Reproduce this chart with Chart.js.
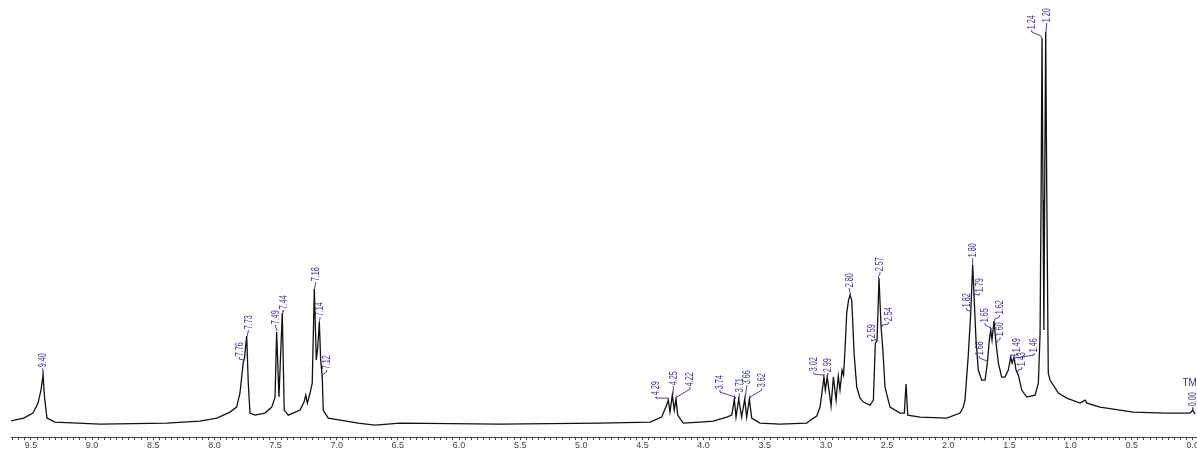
<!DOCTYPE html>
<html><head><meta charset="utf-8">
<script src="https://cdn.jsdelivr.net/npm/chart.js@4/dist/chart.umd.min.js"></script>
<style>html,body{margin:0;padding:0;background:#fff;}canvas{display:block;}</style>
</head><body>
<canvas id="c" width="1197" height="450"></canvas>
<script>
// Chemical shift (ppm) and intensity
const shiftPpm = [
 9.672, 9.560, 9.483, 9.442, 9.418, 9.401, 9.389, 9.369, 9.303, 8.935, 8.388,
 8.118, 7.979, 7.873, 7.818, 7.791, 7.764, 7.754, 7.736, 7.723, 7.709,
 7.668, 7.586, 7.531, 7.504, 7.491, 7.472, 7.445, 7.429, 7.396, 7.300,
 7.267, 7.253, 7.240, 7.218, 7.200, 7.183, 7.167, 7.155, 7.142, 7.131,
 7.118, 7.110, 7.069, 6.826, 6.687, 6.482, 5.665, 4.847, 4.438, 4.343,
 4.302, 4.289, 4.275, 4.256, 4.240, 4.226, 4.212, 4.166, 4.029, 3.921,
 3.811, 3.770, 3.749, 3.735, 3.713, 3.689, 3.664, 3.648, 3.626, 3.607,
 3.539, 3.375, 3.157, 3.114, 3.075, 3.048, 3.016, 3.005, 2.989, 2.966,
 2.958, 2.939, 2.917, 2.899, 2.885, 2.868, 2.856, 2.844, 2.830, 2.815,
 2.803, 2.789, 2.778, 2.770, 2.748, 2.721, 2.694, 2.639, 2.612, 2.596,
 2.582, 2.566, 2.555, 2.549, 2.536, 2.517, 2.476, 2.394, 2.359, 2.345,
 2.331, 2.231, 2.012, 1.903, 1.877, 1.863, 1.836, 1.816, 1.800, 1.789,
 1.773, 1.754, 1.726, 1.699, 1.680, 1.664, 1.653, 1.642, 1.626, 1.609,
 1.590, 1.563, 1.536, 1.509, 1.489, 1.478, 1.462, 1.446, 1.427, 1.399,
 1.358, 1.290, 1.263, 1.249, 1.241, 1.233, 1.225, 1.218, 1.212, 1.203,
 1.194, 1.182, 1.168, 1.141, 1.100, 1.031, 0.922, 0.881, 0.865, 0.759,
 0.487, 0.213, 0.023, 0.001, -0.018
];
const intensity = [
 4, 7, 12, 22, 35, 50, 28, 7, 3, 1, 2,
 4, 7, 13, 18, 32, 63, 67, 89, 42, 12,
 10, 12, 18, 28, 93, 28, 112, 15, 10, 15,
 23, 30, 22, 32, 42, 136, 65, 78, 103, 65,
 48, 15, 7, 2, 0, 2, 1, 2, 3, 8,
 20, 25, 13, 30, 15, 26, 10, 2, 3, 4,
 8, 10, 26, 8, 26, 8, 26, 8, 26, 7,
 2, 1, 2, 6, 9, 18, 48, 35, 48, 27,
 19, 48, 25, 49, 35, 55, 50, 75, 112, 125,
 130, 125, 95, 72, 38, 27, 23, 20, 25, 82,
 84, 147, 115, 98, 78, 38, 18, 12, 12, 41,
 10, 8, 7, 12, 18, 25, 70, 112, 160, 130,
 85, 55, 45, 45, 62, 85, 95, 85, 104, 82,
 62, 48, 48, 55, 68, 62, 68, 55, 50, 35,
 28, 30, 42, 92, 225, 387, 225, 95, 225, 393,
 225, 52, 45, 40, 32, 27, 22, 25, 22, 18,
 13, 12, 12, 15, 11
];

// Peak annotations (labels are the shifts themselves)
const peakLabels = ['9.40','7.76','7.73','7.49','7.44','7.18','7.14','7.12',
 '4.29','4.25','4.22','3.74','3.71','3.66','3.62','3.02','2.99','2.80','2.59','2.57','2.54',
 '1.82','1.80','1.79','1.65','1.62','1.68','1.60','1.49','1.43','1.46','1.24','1.20','0.00'];
const labelPeakHeight = [49,63,89,94,112,136,103,48,
 25,30,26,26,26,26,26,48,48,130,84,147,98,
 112,160,129,95,104,62,82,68,53,65,387,393,15];
const labelTextShift = [9.404,7.796,7.723,7.499,7.437,7.172,7.137,7.082,
 4.389,4.248,4.111,3.866,3.708,3.648,3.525,3.097,2.983,2.809,2.626,2.558,2.490,
 1.849,1.800,1.746,1.699,1.582,1.746,1.576,1.440,1.399,1.298,1.317,1.195,0.001];
const labelTextBase = [57,68,95,100,115,143,108,55,
 29,39,38,35,32,40,37,53,52,137,86,153,103,
 117,167,132,102,110,69,88,72,58,72,395,402,18];

const axisMin = -0.034, axisMax = 9.663;

const peakLabelPlugin = {
  id: 'peakLabels',
  afterDatasetsDraw(chart) {
    const {ctx, scales: {x, y}} = chart;
    ctx.save();
    const blue = '#2f2fa6';
    ctx.strokeStyle = blue; ctx.fillStyle = blue; ctx.lineWidth = 0.9;
    ctx.font = '10px "Liberation Sans", Arial, sans-serif';
    peakLabels.forEach((t, i) => {
      const ax = x.getPixelForValue(parseFloat(t));
      const ay = y.getPixelForValue(labelPeakHeight[i]);
      const tx = x.getPixelForValue(labelTextShift[i]);
      const tb = y.getPixelForValue(labelTextBase[i]);
      ctx.beginPath();
      ctx.moveTo(ax, ay);
      ctx.lineTo(ax, ay - 2);
      ctx.lineTo(tx, tb + 2);
      ctx.lineTo(tx, tb);
      ctx.stroke();
      ctx.save();
      ctx.translate(tx, tb);
      ctx.rotate(-Math.PI / 2);
      ctx.scale(0.72, 1);
      ctx.textAlign = 'left';
      ctx.textBaseline = 'middle';
      ctx.fillText(t, 1, 0.5);
      ctx.restore();
    });
    ctx.font = '10px "Liberation Sans", Arial, sans-serif';
    ctx.textAlign = 'left'; ctx.textBaseline = 'middle';
    ctx.fillText('TMS', x.getPixelForValue(0.085), y.getPixelForValue(42));
    ctx.restore();
  }
};

new Chart(document.getElementById('c'), {
  type: 'line',
  data: {
    datasets: [{
      data: shiftPpm.map((v, i) => ({x: v, y: intensity[i]})),
      borderColor: '#111',
      borderWidth: 1.3,
      pointRadius: 0,
      tension: 0,
      fill: false
    }]
  },
  options: {
    responsive: false,
    devicePixelRatio: 1,
    animation: false,
    layout: {padding: {left: 11, right: 0, top: 5, bottom: 0}},
    plugins: {legend: {display: false}, tooltip: {enabled: false}},
    scales: {
      x: {
        type: 'linear', reverse: true, min: axisMin, max: axisMax,
        afterBuildTicks(scale) {
          const t = [];
          for (let k = 0; k <= 193; k++) t.push({value: k * 0.05});
          scale.ticks = t;
        },
        afterFit(scale) { scale.paddingLeft = 0; scale.paddingRight = 0; },
        ticks: {
          autoSkip: false, maxRotation: 0, minRotation: 0, padding: 0,
          color: '#444',
          font: {size: 9, family: '"Liberation Sans", Arial, sans-serif', lineHeight: 1.1},
          callback: (v) => { const r = Math.round(v * 20); return r % 10 === 0 ? (r / 20).toFixed(1) : ''; }
        },
        grid: {display: true, drawOnChartArea: false, drawTicks: true, tickLength: 3, color: '#444', lineWidth: 1},
        border: {display: true, color: '#444', width: 1}
      },
      y: {display: false, min: -12, max: 420}
    }
  },
  plugins: [peakLabelPlugin]
});
</script>
</body></html>
